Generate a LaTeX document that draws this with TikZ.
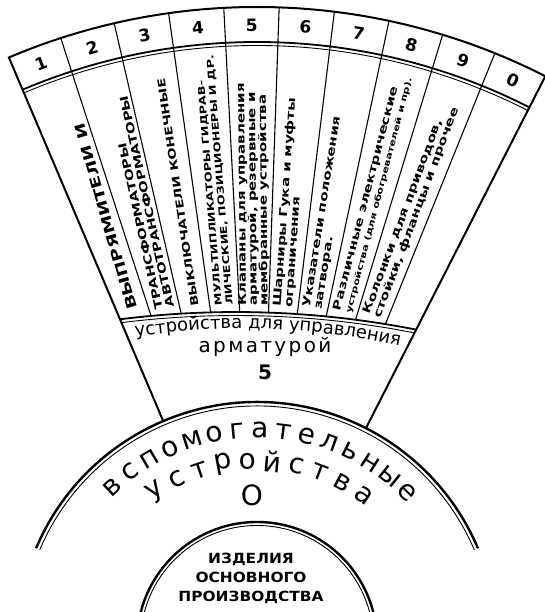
\documentclass[tikz,border=0pt]{standalone}
\usepackage{fontspec}
\setmainfont{DejaVu Sans}
\newfontfamily\fanfont[FakeStretch=1.36]{DejaVu Sans}
\newfontfamily\widefont[FakeStretch=1.1]{DejaVu Sans}
\newfontfamily\spacedfont[LetterSpace=12]{DejaVu Sans}
\usetikzlibrary{decorations.text}

\newcommand{\bandfont}{\fontsize{18}{18}\selectfont}
\tikzset{
  rimline/.style={line width=2.4pt},
  thinrim/.style={line width=0.9pt},
  fanedge/.style={line width=2pt},
  divider/.style={line width=1.1pt},
  numlabel/.style={font=\fontsize{17}{17}\selectfont\bfseries, inner sep=0pt},
  sectortext/.style={font=\fanfont\fontsize{11}{11.5}\selectfont\bfseries,
    align=left, anchor=west, inner sep=0pt,
    execute at begin node={\lineskiplimit=-20pt}},
  ringletter/.style={font=\fontsize{28}{28}\selectfont, inner sep=0pt},
  coretext/.style={font=\widefont\fontsize{14}{19}\selectfont\bfseries,
    align=center, inner sep=0pt},
}
% #2 name, #3 angle of start point, #4 its radius, #5 text direction
\newcommand{\fantext}[6][]{%
  \node[sectortext,#1,rotate=#5] (#2) at (#3:#4) {#6};
}

\begin{document}
\begin{tikzpicture}[x=1pt,y=1pt]
\useasboundingbox (-257,30) rectangle (288,642);
\clip (-257,30) rectangle (288,642);

% inner half circle
\draw[rimline] (180:120) arc[start angle=180, end angle=0, radius=120];
\draw[thinrim] (180:116.5) arc[start angle=180, end angle=0, radius=116.5];
\node[coretext] (core) at (-6,64) {ИЗДЕЛИЯ\\ОСНОВНОГО\\ПРОИЗВОДСТВА};

% outer half circle
\draw[rimline] (157:240) arc[start angle=157, end angle=23, radius=240];
\draw[thinrim] (157:236) arc[start angle=157, end angle=23, radius=236];

\foreach \ch [count=\i from 0] in {в,с,п,о,м,о,г,а,т,е,л,ь,н,ы,е}
  \node[ringletter, rotate={43-\i*6.286}] (top\i) at ({133-\i*6.286}:212) {\ch};
\foreach \ch [count=\i from 0] in {у,с,т,р,о,й,с,т,в,а}
  \node[ringletter, rotate={34-\i*7.78}] (low\i) at ({124-\i*7.78}:181) {\ch};
\node[font=\fontsize{28}{28}\selectfont, inner sep=0pt] (group) at (-5,147) {O};

% fan
\draw[fanedge] (113:240) -- (113:635)
  arc[start angle=113, end angle=63, radius=635] -- (63:240);
\draw[rimline, line width=1.8pt] (113:600) arc[start angle=113, end angle=63, radius=600];
\draw[thinrim] (113:596.5) arc[start angle=113, end angle=63, radius=596.5];
\draw[rimline, line width=1.8pt] ([shift={(-21,-600)}]97.17:930)
  arc[start angle=97.17, end angle=78.83, radius=930];
\draw[thinrim] ([shift={(-21,-600)}]97.1:926.5)
  arc[start angle=97.1, end angle=78.9, radius=926.5];

\foreach \a in {108,103,...,68} {
  \pgfmathsetmacro\uc{-0.21*cos(\a)-6*sin(\a)}
  \pgfmathsetmacro\rr{100*(\uc+sqrt(\uc*\uc+50.4459))}
  \draw[divider] (\a:635) -- (\a:\rr);
}

\foreach \d [count=\i from 0] in {1,2,3,4,5,6,7,8,9,0}
  \node[numlabel, rotate={20.5-5*\i}] (num\d) at ({110.5-5*\i}:617) {\d};

\fantext[font=\fanfont\fontsize{13.9}{12}\selectfont\bfseries]{kind1}{110.5}{355}{106}{ВЫПРЯМИТЕЛИ И}
\fantext{kind2}{105.5}{346}{102.5}{ТРАНСФОРМАТОРЫ\\АВТОТРАНСФОРМАТОРЫ}
\fantext[font=\fanfont\fontsize{10.5}{11.5}\selectfont\bfseries]{kind3}{100.5}{341}{98.5}{ВЫКЛЮЧАТЕЛИ КОНЕЧНЫЕ}
\fantext[font=\fanfont\fontsize{9.4}{11}\selectfont\bfseries]{kind4}{95.5}{338}{94.5}{МУЛЬТИПЛИКАТОРЫ ГИДРАВ-\\ЛИЧЕСКИЕ, ПОЗИЦИОНЕРЫ И ДР.}
\fantext[font=\fanfont\fontsize{11}{10.8}\selectfont\bfseries]{kind5}{90.5}{336}{90.5}{Клапаны для управления\\арматурой, резервные и\\мембранные устройства}
\fantext{kind6}{85.5}{336}{86}{Шарниры Гука и муфты\\ограничения}
\fantext{kind7}{80.5}{338}{81}{Указатели положения\\затвора.}
\fantext{kind8}{75.5}{341}{75.5}{Различные электрические\\{\fontsize{8.1}{11.5}\selectfont устройства (для обогревателей и пр).}}
\fantext{kind9}{70.5}{346}{69.5}{Колонки для приводов,\\стойки, фланцы и прочее}

% band
\path[decorate, decoration={text along path, text align=center,
  text={|\bandfont|устройства для управления}}]
  ([shift={(-13.4,-386.6)}]100:700) arc[start angle=100, end angle=76, radius=700];
\node[font=\spacedfont\fontsize{20}{20}\selectfont, inner sep=0pt, anchor=base] (armatura) at (8,289.5) {арматурой};
\node[font=\fontsize{20}{20}\selectfont\bfseries, inner sep=0pt, anchor=base] (subgroup) at (8,262) {5};

\end{tikzpicture}
\end{document}
